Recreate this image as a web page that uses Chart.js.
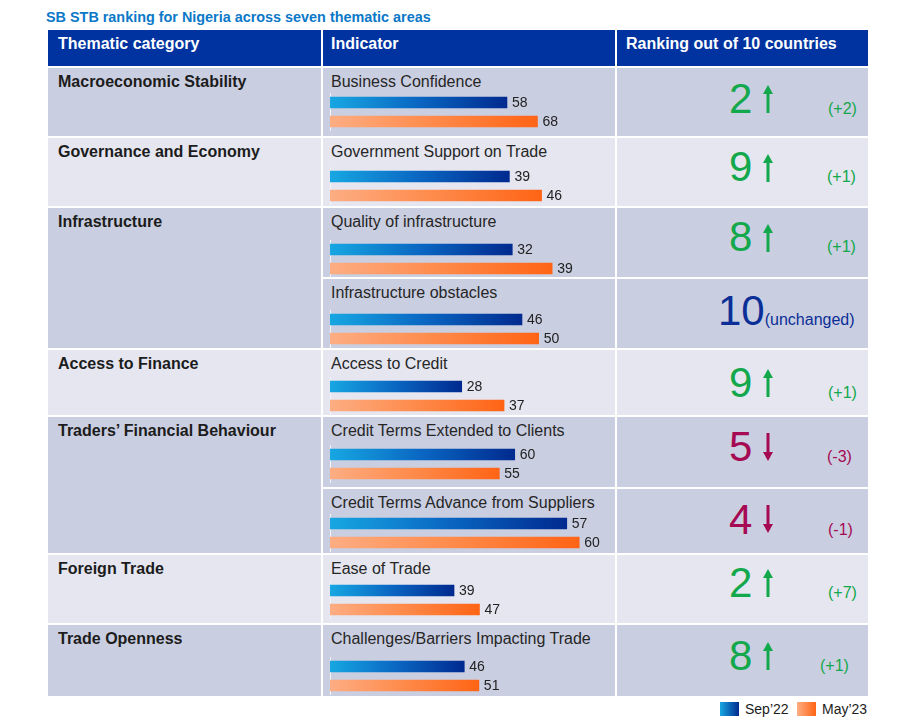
<!DOCTYPE html>
<html>
<head>
<meta charset="utf-8">
<title>SB STB ranking for Nigeria</title>
<script src="https://cdn.jsdelivr.net/npm/chart.js@4.4.0/dist/chart.umd.min.js"></script>
<style>
  body { margin: 0; background: #fff; font-family: "Liberation Sans", Arial, sans-serif; }
  #page { position: relative; width: 913px; height: 727px; overflow: hidden; }
  .box { position: absolute; }
  .txt { position: absolute; white-space: nowrap; font-size: 16px; line-height: 16px; }
  .head { color: #fff; font-weight: bold; }
  .cat { color: #1c1c1c; font-weight: bold; }
  .ind { color: #262626; }
  .rank { position: absolute; white-space: nowrap; font-size: 42px; line-height: 42px; }
  canvas { position: absolute; }
</style>
</head>
<body>
<div id="page">
  <div class="txt" style="left:46px;top:9px;font-size:14.4px;font-weight:bold;color:#0b78c8;">SB STB ranking for Nigeria across seven thematic areas</div>
</div>
<script>
// Data
const categories = ['Macroeconomic Stability', 'Governance and Economy', 'Infrastructure', 'Access to Finance',
  'Traders’ Financial Behaviour', 'Foreign Trade', 'Trade Openness'];
const indicators = ['Business Confidence', 'Government Support on Trade', 'Quality of infrastructure',
  'Infrastructure obstacles', 'Access to Credit', 'Credit Terms Extended to Clients',
  'Credit Terms Advance from Suppliers', 'Ease of Trade', 'Challenges/Barriers Impacting Trade'];
const categoryIndex = [0, 1, 2, 2, 3, 4, 4, 5, 6];
const seriesNames = ['Sep’22', 'May’23'];
const sep22 = [58, 39, 32, 46, 28, 60, 57, 39, 46];
const may23 = [68, 46, 39, 50, 37, 55, 60, 47, 51];
const rankings = [2, 9, 8, 10, 9, 5, 4, 2, 8];
const rankChange = [2, 1, 1, 0, 1, -3, -1, 7, 1];
const axisMax = [88.5, 58.7, 47.4, 64.7, 57.4, 87.7, 65, 84.9, 92.5];
const headers = ['Thematic category', 'Indicator', 'Ranking out of 10 countries'];

// Layout of the table (pixels)
const colLeft = [48, 323, 617];
const colRight = [321, 615, 868];
const rowTop = [68, 138, 208, 279, 350, 417, 489, 555, 625];
const rowBottom = [136, 206, 277, 348, 415, 487, 553, 623, 696];
const barCenter = [102, 176.5, 249, 319, 386, 454.7, 523.3, 590.5, 666.3];
const rankBaseline = [113.3, 181.7, 251.7, 325, 397, 461.7, 534, 597.3, 670];
const deltaLeft = [828, 827, 827, 0, 828, 827, 828, 828, 820];

const darkRow = '#cacee1';
const lightRow = '#e5e6f0';
const upColor = '#12a84b';
const downColor = '#a50a52';
const sameColor = '#0b2f96';

const page = document.getElementById('page');

function addBox(left, top, width, height, bg) {
  const d = document.createElement('div');
  d.className = 'box';
  d.style.cssText = `left:${left}px;top:${top}px;width:${width}px;height:${height}px;background:${bg};`;
  page.appendChild(d);
  return d;
}

function addText(cls, text, left, top, extra) {
  const d = document.createElement('div');
  d.className = cls;
  d.style.cssText = `left:${left}px;top:${top}px;` + (extra || '');
  d.innerHTML = text;
  page.appendChild(d);
  return d;
}

// Header row
headers.forEach((h, c) => {
  addBox(colLeft[c], 30, colRight[c] - colLeft[c], 36, '#0033a0');
  addText('txt head', h, colLeft[c] + (c === 0 ? 10 : 8) + (c === 2 ? 1 : 0), 36);
});

// Category cells
categories.forEach((name, k) => {
  const rows = categoryIndex.map((c, i) => c === k ? i : -1).filter(i => i >= 0);
  const top = rowTop[rows[0]];
  const bottom = rowBottom[rows[rows.length - 1]];
  const bg = k % 2 === 0 ? darkRow : lightRow;
  addBox(colLeft[0], top, colRight[0] - colLeft[0], bottom - top, bg);
  addText('txt cat', name, 58, top + 5.5);
});

// Indicator and ranking cells
function arrowSvg(up, color) {
  const shape = up
    ? '<polygon points="5,0 10,9 0,9"/><rect x="3.5" y="8" width="3" height="20"/>'
    : '<polygon points="5,28 10,19 0,19"/><rect x="3.5" y="0" width="3" height="20"/>';
  return `<svg width="10" height="28" viewBox="0 0 10 28" fill="${color}">${shape}</svg>`;
}

indicators.forEach((name, i) => {
  const bg = categoryIndex[i] % 2 === 0 ? darkRow : lightRow;
  const top = rowTop[i], h = rowBottom[i] - rowTop[i];
  addBox(colLeft[1], top, colRight[1] - colLeft[1], h, bg);
  addBox(colLeft[2], top, colRight[2] - colLeft[2], h, bg);
  addText('txt ind', name, 331, top + 5.5);

  const base = rankBaseline[i];
  const ch = rankChange[i];
  if (ch === 0) {
    addText('rank', `${rankings[i]}<span style="font-size:16px">(unchanged)</span>`, 718, base - 35.5, `color:${sameColor};`);
  } else {
    const color = ch > 0 ? upColor : downColor;
    addText('rank', String(rankings[i]), 729, base - 35.5, `color:${color};`);
    const a = addText('box', arrowSvg(ch > 0, color), 763, base - (ch > 0 ? 28 : 29));
    a.style.lineHeight = '0';
    addText('txt', `(${ch > 0 ? '+' : ''}${ch})`, deltaLeft[i], base + 1 - 13.5, `color:${color};`);
  }
});

// Bar gradients
const blueStops = ['#17a7e2', '#0a66c2', '#002a8f'];
const orangeStops = ['#fdad83', '#fe8a4a', '#ff6415'];

function barFill(context) {
  const chart = context.chart;
  const area = chart.chartArea;
  const stops = context.dataIndex === 0 ? blueStops : orangeStops;
  if (!area) return stops[2];
  const end = chart.scales.x.getPixelForValue(context.raw);
  const g = chart.ctx.createLinearGradient(area.left, 0, end, 0);
  g.addColorStop(0, stops[0]);
  g.addColorStop(0.5, stops[1]);
  g.addColorStop(1, stops[2]);
  return g;
}

// Value labels to the right of each bar
const valueLabels = {
  id: 'valueLabels',
  afterDatasetsDraw(chart) {
    const ctx = chart.ctx;
    const ds = chart.data.datasets[0];
    ctx.save();
    ctx.font = '14px "Liberation Sans", Arial, sans-serif';
    ctx.fillStyle = '#222';
    ctx.textBaseline = 'middle';
    chart.getDatasetMeta(0).data.forEach((bar, j) => {
      ctx.fillText(ds.data[j], bar.x + 5, bar.y + 0.5);
    });
    ctx.restore();
  }
};

// One small bar chart per indicator
indicators.forEach((name, i) => {
  const canvas = document.createElement('canvas');
  canvas.width = 300;
  canvas.height = 38;
  canvas.style.left = '330px';
  canvas.style.top = (barCenter[i] - 9.5) + 'px';
  canvas.style.width = '300px';
  canvas.style.height = '38px';
  page.appendChild(canvas);

  new Chart(canvas, {
    type: 'bar',
    data: {
      labels: seriesNames,
      datasets: [{
        data: [sep22[i], may23[i]],
        backgroundColor: barFill,
        borderWidth: 0,
        barThickness: 11
      }]
    },
    options: {
      indexAxis: 'y',
      responsive: false,
      animation: false,
      layout: { padding: { left: 0, right: 30, top: 0, bottom: 0 } },
      plugins: { legend: { display: false }, tooltip: { enabled: false } },
      scales: {
        x: { display: false, min: 0, max: axisMax[i] },
        y: {
          ticks: { display: false },
          grid: { display: false, drawTicks: false },
          border: { color: '#f3f3f8', width: 1 }
        }
      }
    },
    plugins: [valueLabels]
  });
});

// Legend
const legendLeft = [720, 797];
seriesNames.forEach((s, j) => {
  const stops = j === 0 ? blueStops : orangeStops;
  addBox(legendLeft[j], 702, 19, 14, `linear-gradient(to right, ${stops[0]}, ${stops[2]})`);
  addText('txt', s, legendLeft[j] + 25, 701, 'font-size:14px;color:#1c1c1c;');
});
</script>
</body>
</html>
